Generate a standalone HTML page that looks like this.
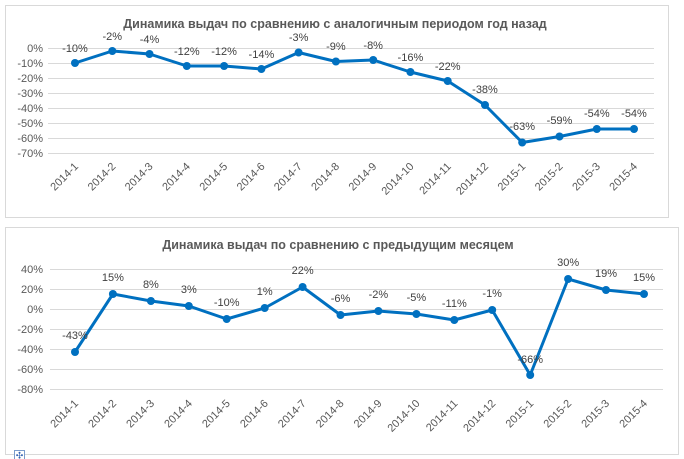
<!DOCTYPE html>
<html><head><meta charset="utf-8"><style>
body{margin:0;background:#fff;}
svg{display:block;font-family:"Liberation Sans","DejaVu Sans",sans-serif;}
</style></head><body>
<svg width="684" height="459" viewBox="0 0 684 459">
<rect x="5.5" y="5.5" width="663" height="212" fill="#fff" stroke="#d9d9d9"/>
<rect x="5.5" y="227.5" width="673" height="227" fill="#fff" stroke="#d9d9d9"/>
<text x="335" y="28" text-anchor="middle" font-size="12.5" font-weight="bold" fill="#595959">Динамика выдач по сравнению с аналогичным периодом год назад</text>
<text x="338" y="249" text-anchor="middle" font-size="12.5" font-weight="bold" fill="#595959">Динамика выдач по сравнению с предыдущим месяцем</text>
<g stroke="#d9d9d9" stroke-width="1">
<line x1="48" x2="654" y1="48.5" y2="48.5"/><line x1="48" x2="654" y1="63.5" y2="63.5"/><line x1="48" x2="654" y1="78.5" y2="78.5"/><line x1="48" x2="654" y1="93.5" y2="93.5"/><line x1="48" x2="654" y1="108.5" y2="108.5"/><line x1="48" x2="654" y1="123.5" y2="123.5"/><line x1="48" x2="654" y1="138.5" y2="138.5"/><line x1="48" x2="654" y1="153.5" y2="153.5"/>
<line x1="50" x2="663" y1="269.5" y2="269.5"/><line x1="50" x2="663" y1="289.5" y2="289.5"/><line x1="50" x2="663" y1="309.5" y2="309.5"/><line x1="50" x2="663" y1="329.5" y2="329.5"/><line x1="50" x2="663" y1="349.5" y2="349.5"/><line x1="50" x2="663" y1="369.5" y2="369.5"/><line x1="50" x2="663" y1="389.5" y2="389.5"/>
</g>
<g font-size="11" fill="#595959" text-anchor="end">
<text x="43" y="52">0%</text><text x="43" y="67">-10%</text><text x="43" y="82">-20%</text><text x="43" y="97">-30%</text><text x="43" y="112">-40%</text><text x="43" y="127">-50%</text><text x="43" y="142">-60%</text><text x="43" y="157">-70%</text>
<text x="43" y="273">40%</text><text x="43" y="293">20%</text><text x="43" y="313">0%</text><text x="43" y="333">-20%</text><text x="43" y="353">-40%</text><text x="43" y="373">-60%</text><text x="43" y="393">-80%</text>
</g>
<polyline fill="none" stroke="#0070c0" stroke-width="3" stroke-linejoin="round" points="75,63 112.3,51 149.5,54 186.8,66 224.1,66 261.4,69 298.6,52.5 335.9,61.5 373.2,60 410.4,72 447.7,81 485,105 522.2,142.5 559.5,136.5 596.8,129 634,129"/>
<g fill="#0070c0">
<circle cx="75" cy="63" r="4"/><circle cx="112.3" cy="51" r="4"/><circle cx="149.5" cy="54" r="4"/><circle cx="186.8" cy="66" r="4"/><circle cx="224.1" cy="66" r="4"/><circle cx="261.4" cy="69" r="4"/><circle cx="298.6" cy="52.5" r="4"/><circle cx="335.9" cy="61.5" r="4"/><circle cx="373.2" cy="60" r="4"/><circle cx="410.4" cy="72" r="4"/><circle cx="447.7" cy="81" r="4"/><circle cx="485" cy="105" r="4"/><circle cx="522.2" cy="142.5" r="4"/><circle cx="559.5" cy="136.5" r="4"/><circle cx="596.8" cy="129" r="4"/><circle cx="634" cy="129" r="4"/>
</g>
<polyline fill="none" stroke="#0070c0" stroke-width="3" stroke-linejoin="round" points="75,352 112.9,294 150.9,301 188.8,306 226.7,319 264.7,308 302.6,287 340.5,315 378.4,311 416.4,314 454.3,320 492.2,310 530.2,375 568.1,279 606,290 644,294"/>
<g fill="#0070c0">
<circle cx="75" cy="352" r="4"/><circle cx="112.9" cy="294" r="4"/><circle cx="150.9" cy="301" r="4"/><circle cx="188.8" cy="306" r="4"/><circle cx="226.7" cy="319" r="4"/><circle cx="264.7" cy="308" r="4"/><circle cx="302.6" cy="287" r="4"/><circle cx="340.5" cy="315" r="4"/><circle cx="378.4" cy="311" r="4"/><circle cx="416.4" cy="314" r="4"/><circle cx="454.3" cy="320" r="4"/><circle cx="492.2" cy="310" r="4"/><circle cx="530.2" cy="375" r="4"/><circle cx="568.1" cy="279" r="4"/><circle cx="606" cy="290" r="4"/><circle cx="644" cy="294" r="4"/>
</g>
<g font-size="11" fill="#404040" text-anchor="middle">
<text x="75" y="52">-10%</text><text x="112.3" y="40">-2%</text><text x="149.5" y="43">-4%</text><text x="186.8" y="55">-12%</text><text x="224.1" y="55">-12%</text><text x="261.4" y="58">-14%</text><text x="298.6" y="41">-3%</text><text x="335.9" y="50">-9%</text><text x="373.2" y="49">-8%</text><text x="410.4" y="61">-16%</text><text x="447.7" y="70">-22%</text><text x="485" y="93">-38%</text><text x="522.2" y="130">-63%</text><text x="559.5" y="124">-59%</text><text x="596.8" y="117">-54%</text><text x="634" y="117">-54%</text>
<text x="75" y="339">-43%</text><text x="112.9" y="281">15%</text><text x="150.9" y="288">8%</text><text x="188.8" y="293">3%</text><text x="226.7" y="306">-10%</text><text x="264.7" y="295">1%</text><text x="302.6" y="274">22%</text><text x="340.5" y="302">-6%</text><text x="378.4" y="298">-2%</text><text x="416.4" y="301">-5%</text><text x="454.3" y="307">-11%</text><text x="492.2" y="297">-1%</text><text x="530.2" y="363">-66%</text><text x="568.1" y="266">30%</text><text x="606" y="277">19%</text><text x="644" y="281">15%</text>
</g>
<g font-size="11" fill="#595959" text-anchor="end">
<text transform="translate(79,167) rotate(-45)">2014-1</text><text transform="translate(116.3,167) rotate(-45)">2014-2</text><text transform="translate(153.5,167) rotate(-45)">2014-3</text><text transform="translate(190.8,167) rotate(-45)">2014-4</text><text transform="translate(228.1,167) rotate(-45)">2014-5</text><text transform="translate(265.4,167) rotate(-45)">2014-6</text><text transform="translate(302.6,167) rotate(-45)">2014-7</text><text transform="translate(339.9,167) rotate(-45)">2014-8</text><text transform="translate(377.2,167) rotate(-45)">2014-9</text><text transform="translate(414.4,167) rotate(-45)">2014-10</text><text transform="translate(451.7,167) rotate(-45)">2014-11</text><text transform="translate(489,167) rotate(-45)">2014-12</text><text transform="translate(526.2,167) rotate(-45)">2015-1</text><text transform="translate(563.5,167) rotate(-45)">2015-2</text><text transform="translate(600.8,167) rotate(-45)">2015-3</text><text transform="translate(638,167) rotate(-45)">2015-4</text>
<text transform="translate(79,404) rotate(-45)">2014-1</text><text transform="translate(116.9,404) rotate(-45)">2014-2</text><text transform="translate(154.9,404) rotate(-45)">2014-3</text><text transform="translate(192.8,404) rotate(-45)">2014-4</text><text transform="translate(230.7,404) rotate(-45)">2014-5</text><text transform="translate(268.7,404) rotate(-45)">2014-6</text><text transform="translate(306.6,404) rotate(-45)">2014-7</text><text transform="translate(344.5,404) rotate(-45)">2014-8</text><text transform="translate(382.4,404) rotate(-45)">2014-9</text><text transform="translate(420.4,404) rotate(-45)">2014-10</text><text transform="translate(458.3,404) rotate(-45)">2014-11</text><text transform="translate(496.2,404) rotate(-45)">2014-12</text><text transform="translate(534.2,404) rotate(-45)">2015-1</text><text transform="translate(572.1,404) rotate(-45)">2015-2</text><text transform="translate(610,404) rotate(-45)">2015-3</text><text transform="translate(648,404) rotate(-45)">2015-4</text>
</g>
<rect x="14.5" y="450.5" width="10" height="9" fill="#fff" stroke="#7a9ccc"/>
<text x="19.5" y="458.5" font-size="9" fill="#3060b0" text-anchor="middle">✣</text>
</svg>
</body></html>
